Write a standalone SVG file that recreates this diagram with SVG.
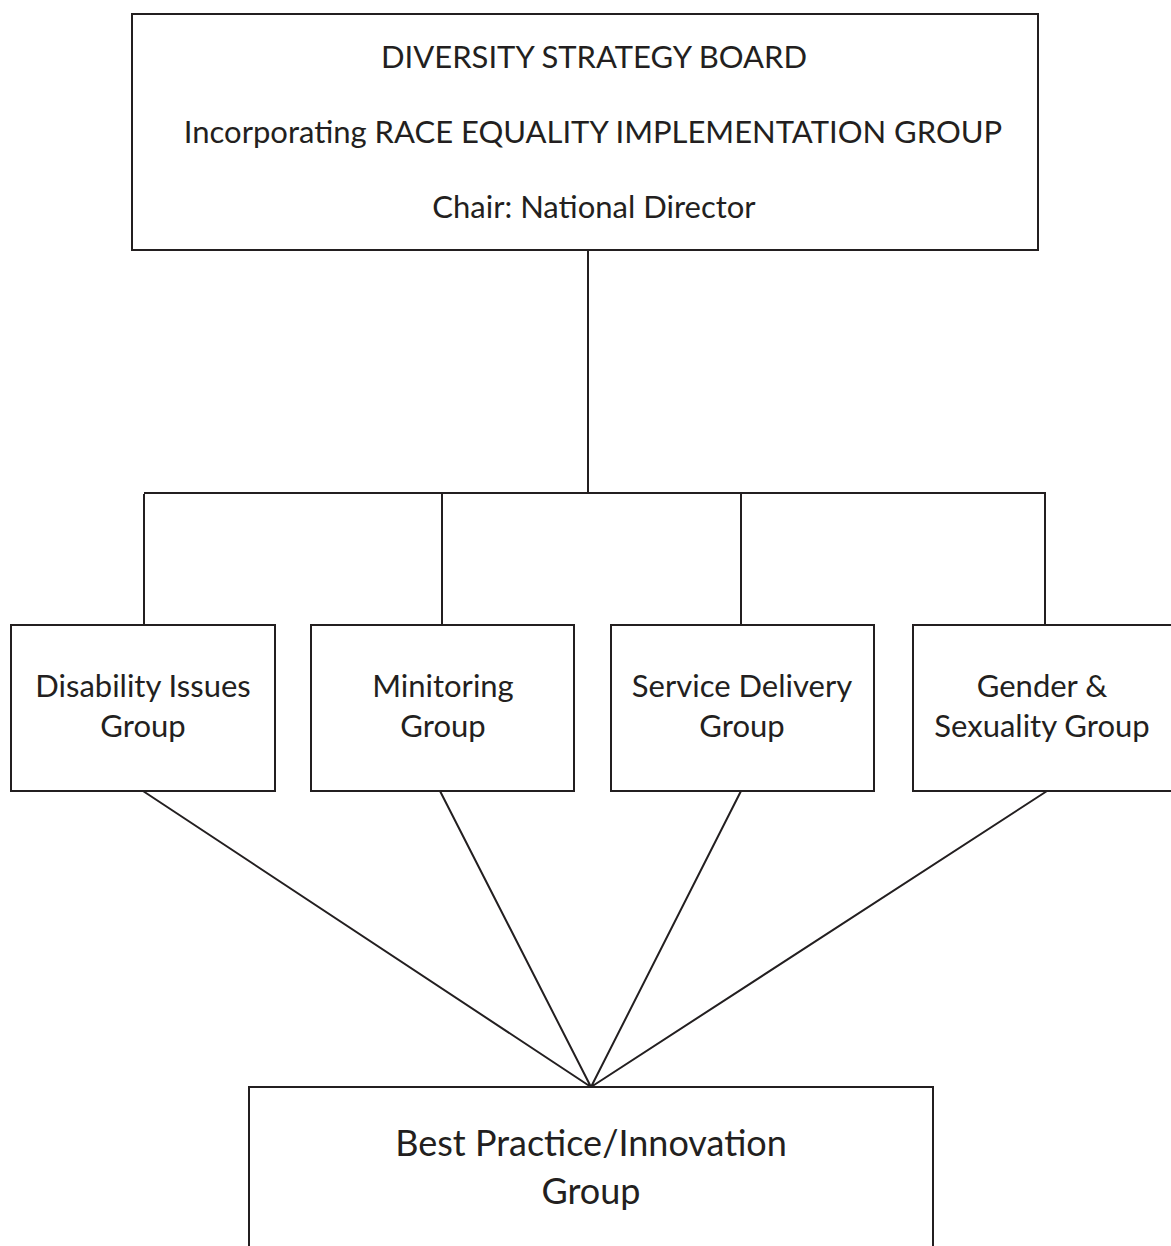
<svg xmlns="http://www.w3.org/2000/svg" width="1171" height="1246" viewBox="0 0 1171 1246">
<style>
.box{fill:#fff;stroke:#231f20;stroke-width:2}
.ln{fill:none;stroke:#231f20;stroke-width:2}
text{font-family:Lato,"Open Sans",sans-serif;fill:#231f20;text-anchor:middle}
.t1{font-size:31px}
.t2{font-size:31px}
.t3{font-size:36px}
</style>
<rect width="1171" height="1246" fill="#fff"/>
<g id="connectors">
<path class="ln" d="M588 250V493M144 494V625M144 493H1045V625M442 493V625M741 493V625"/>
<path class="ln" d="M143 791L591 1087M440 791L591 1087M741 791L591 1087M1047 791L591 1087"/>
</g>
<g id="board">
<rect class="box" x="132" y="14" width="906" height="236"/>
<text class="t1" x="594" y="68">DIVERSITY STRATEGY BOARD</text>
<text class="t1" x="593" y="143">Incorporating RACE EQUALITY IMPLEMENTATION GROUP</text>
<text class="t1" x="594" y="218">Chair: National Director</text>
</g>
<g id="disability">
<rect class="box" x="11" y="625" width="264" height="166"/>
<text class="t2" x="143" y="697">Disability Issues</text>
<text class="t2" x="143" y="737">Group</text>
</g>
<g id="monitoring">
<rect class="box" x="311" y="625" width="263" height="166"/>
<text class="t2" x="443" y="697">Minitoring</text>
<text class="t2" x="443" y="737">Group</text>
</g>
<g id="service">
<rect class="box" x="611" y="625" width="263" height="166"/>
<text class="t2" x="742" y="697">Service Delivery</text>
<text class="t2" x="742" y="737">Group</text>
</g>
<g id="gender">
<rect class="box" x="913" y="625" width="270" height="166"/>
<text class="t2" x="1042" y="697">Gender &amp;</text>
<text class="t2" x="1042" y="737">Sexuality Group</text>
</g>
<g id="bestpractice">
<rect class="box" x="249" y="1087" width="684" height="180"/>
<text class="t3" x="591" y="1156">Best Practice/Innovation</text>
<text class="t3" x="591" y="1204">Group</text>
</g>
</svg>
